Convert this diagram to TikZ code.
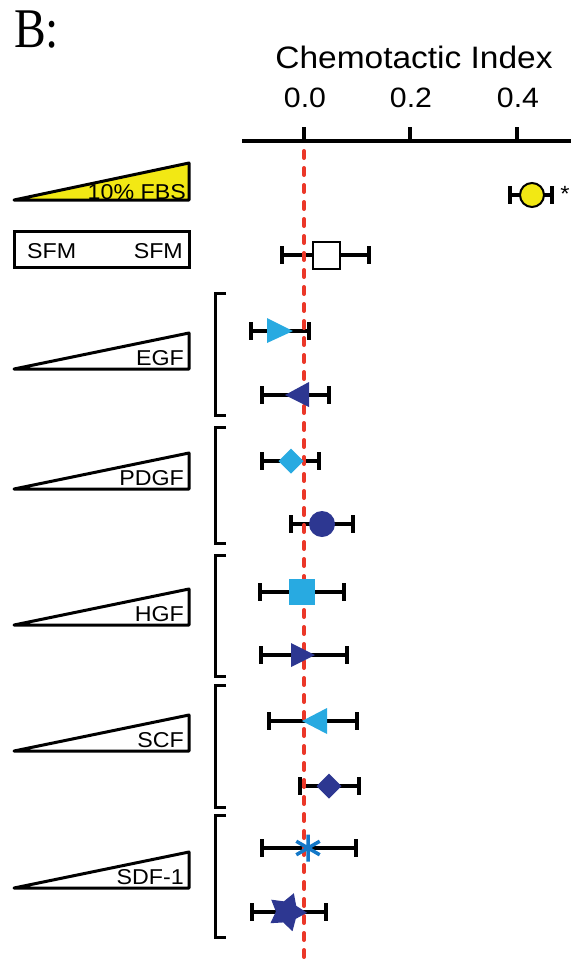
\documentclass[tikz,border=0pt]{standalone}
\usepackage{fontspec}
\setmainfont{Liberation Sans}[FakeStretch=1.08]
\newfontfamily\letterfont{Liberation Serif}[FakeStretch=0.85]
\usetikzlibrary{shapes.geometric}
\definecolor{fbsyellow}{RGB}{242,232,20}
\definecolor{lightblue}{RGB}{40,170,225}
\definecolor{darkblue}{RGB}{45,55,145}
\definecolor{starblue}{RGB}{20,120,200}
\definecolor{zerored}{RGB}{235,55,40}
\tikzset{
    errbar/.style={line width=3.5pt},
    wedgebox/.style={draw, line width=3pt, line join=round},
    wedgetext/.style={anchor=base east, inner sep=0pt, font=\fontsize{21.5}{21.5}\selectfont},
    bracket/.style={line width=3pt},
    marker/.style={inner sep=0pt, outer sep=0pt}
}
\begin{document}
\begin{tikzpicture}[x=1pt, y=-1pt]
    \useasboundingbox (0, 0) rectangle (582, 959);
    % Panel letter and title
    \node [anchor=base west, inner sep=0pt] (panel) at (14, 47) {\letterfont\fontsize{56}{56}\selectfont B:};
    \node [anchor=base, inner sep=0pt] (title) at (414, 68) {\fontsize{31}{31}\selectfont Chemotactic Index};
    % Draw axis
    \coordinate (nxa) at (242, 141);
    \coordinate (pxa) at (571, 141);
    \draw [line width=4.5pt] (nxa) -- (pxa);
    \foreach \xt/\lab in {304/0.0, 410/0.2, 517/0.4}{
        \draw [line width=4pt] (\xt, 127) -- (\xt, 141);
        \node [anchor=base, inner sep=0pt] (tick\lab) at (\xt+1, 107) {\fontsize{28}{28}\selectfont \lab};
    }
    % Gradients
    \draw [wedgebox, fill=fbsyellow] (14, 200) -- (189, 163) -- (189, 200) -- cycle;
    \node [wedgetext] (fbs) at (186, 199) {10\% FBS};
    \draw [line width=3pt] (14, 231) rectangle (189, 267);
    \node [anchor=base west, inner sep=0pt, font=\fontsize{21.5}{21.5}\selectfont] (sfml) at (27, 258) {SFM};
    \node [anchor=base east, inner sep=0pt, font=\fontsize{21.5}{21.5}\selectfont] (sfmr) at (183, 258) {SFM};
    \foreach \yb/\txt [count=\i] in {369/EGF, 489/PDGF, 625/HGF, 751/SCF, 888/SDF-1}{
        \draw [wedgebox] (14, \yb) -- (189, \yb-36) -- (189, \yb) -- cycle;
        \node [wedgetext] (gf\i) at (184, \yb-3.5) {\txt};
    }
    % Brackets
    \foreach \yt/\yb in {293/415, 427/543, 555/676, 685/807, 815/937}{
        \draw [bracket] (226, \yt) -- (215, \yt) -- (215, \yb) -- (226, \yb);
    }
    % Error bars
    \foreach \yy/\lo/\hi in {195/510/552, 255/282/369, 331/251/309, 395/262/329, 461/262/319, 524/291/353,
                             592/260/344, 655/261/347, 721/269/357, 786/300/359, 848/262/356, 912/252/326}{
        \draw [errbar] (\lo, \yy-9) -- (\lo, \yy+9) (\lo, \yy) -- (\hi, \yy) (\hi, \yy-9) -- (\hi, \yy+9);
    }
    % Zero line
    \coordinate (zt) at (304, 141);
    \coordinate (zb) at (304, 959);
    \draw [zerored, line width=4pt, line cap=round, dash pattern=on 7pt off 10pt, dash phase=-10pt] (zt) -- (zb);
    % Markers
    \node [marker, circle, draw, line width=2pt, fill=fbsyellow, minimum size=24pt] (fbsm) at (532, 195) {};
    \node [anchor=center, inner sep=0pt, font=\fontsize{22}{22}\selectfont] (star) at (565, 194) {*};
    \node [marker, rectangle, draw, line width=2pt, fill=white, minimum size=27pt] (sfmm) at (326, 255) {};
    \fill [lightblue] (267, 318) -- (293, 331) -- (267, 343) -- cycle;
    \fill [darkblue] (285, 395) -- (309, 382) -- (309, 407) -- cycle;
    \node [marker, diamond, fill=lightblue, minimum size=25pt] (pdgfa) at (291, 461) {};
    \node [marker, circle, fill=darkblue, minimum size=26pt] (pdgfb) at (322, 524) {};
    \node [marker, rectangle, fill=lightblue, minimum size=26pt] (hgfa) at (302, 592) {};
    \fill [darkblue] (291, 643) -- (315, 655) -- (291, 667) -- cycle;
    \fill [lightblue] (302, 721) -- (327, 708) -- (327, 734) -- cycle;
    \node [marker, diamond, fill=darkblue, minimum size=25pt] (scfb) at (329, 786) {};
    \coordinate (sdfa) at (308, 848);
    \draw [starblue, line width=3.5pt] (sdfa) +(90:13.5) -- +(270:13.5) (sdfa) +(30:13.5) -- +(210:13.5) (sdfa) +(150:13.5) -- +(330:13.5);
    \node [marker, star, star points=5, star point ratio=1.8, fill=darkblue, minimum size=40pt, rotate=-20] (sdfb) at (287, 912) {};
\end{tikzpicture}
\end{document}
